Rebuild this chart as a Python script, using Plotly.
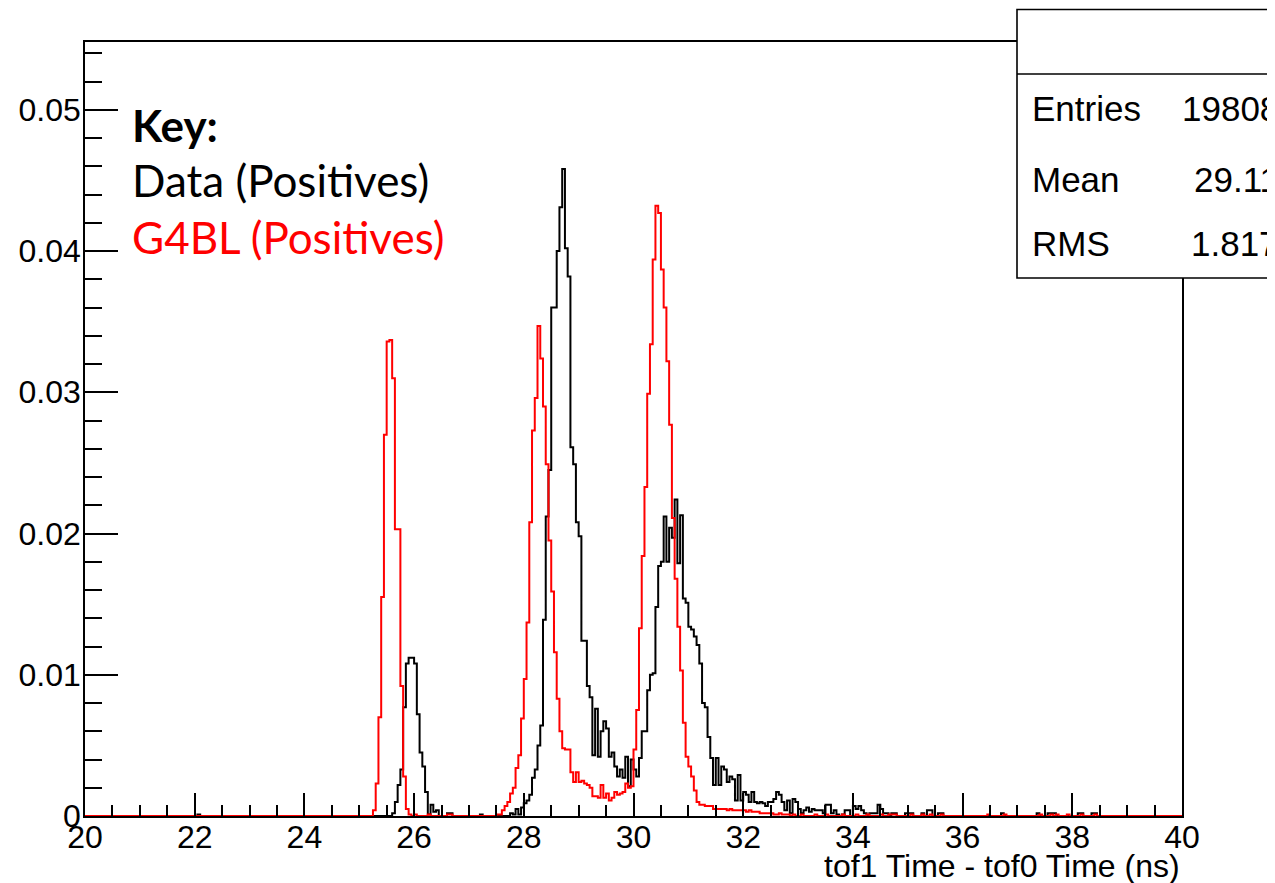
import numpy as np
import plotly.graph_objects as go

# ---------------- binning ----------------
X_MIN, X_MAX, BIN_WIDTH = 20.0, 40.0, 0.05

# ---------------- Data (Positives) : black ----------------
data_peak1_start = 25.60
data_peak1 = [0.0002, 0.0010, 0.0022, 0.0033, 0.0077, 0.0108, 0.0112, 0.0112, 0.0108, 0.0072,
              0.0045, 0.0035, 0.0017, 0.0001, 0.0008, 0.0003, 0.0004, 0.0, 0.0, 0.0,
              0.0002, 0.0002, 0.0]

data_peak2_start = 27.75
data_peak2 = [0.0002, 0.0001, 0.0005, 0.0001, 0.0006, 0.0009, 0.0011, 0.0015, 0.0027, 0.0033,
              0.0050, 0.0064, 0.0139, 0.0212, 0.0245, 0.0360, 0.0360, 0.0400, 0.0431, 0.0458,
              0.0402, 0.0382, 0.0261, 0.0249, 0.0208, 0.0198, 0.0124, 0.0124, 0.0092, 0.0084,
              0.0043, 0.0076, 0.0042, 0.0060, 0.0067, 0.0062]

data_peak3_start = 29.55
data_peak3 = [0.0042, 0.0045, 0.0035, 0.0028, 0.0033, 0.0027, 0.0042, 0.0021, 0.0040, 0.0033,
              0.0028, 0.0041, 0.0060, 0.0060, 0.0089, 0.0100, 0.0101, 0.0148, 0.0177, 0.0180,
              0.0212, 0.0180, 0.0204, 0.0197, 0.0224, 0.0179, 0.0213, 0.0154, 0.0151, 0.0134,
              0.0132, 0.0127, 0.0121, 0.0108, 0.0080, 0.0077, 0.0056, 0.0041, 0.0022, 0.0041,
              0.0022, 0.0035, 0.0033, 0.0024, 0.0028, 0.0026, 0.0011, 0.0029, 0.0011, 0.0017,
              0.0015]

data_tail_start = 32.10
data_tail = [0.0010, 0.0017, 0.0010, 0.0009, 0.0010, 0.0009, 0.0007, 0.0010, 0.0010, 0.0012,
             0.0017, 0.0015, 0.0010, 0.0004, 0.0011, 0.0002, 0.0012, 0.0010, 0.0005, 0.0002,
             0.0004, 0.0006, 0.0003, 0.0005, 0.0004, 0.0004, 0.0004, 0.0002, 0.0008, 0.0008,
             0.0002, 0.0004, 0.0001, 0.0, 0.0001, 0.0004, 0.0004, 0.0, 0.0007, 0.0005,
             0.0007, 0.0004, 0.0002, 0.0, 0.0002, 0.0002, 0.0002, 0.0008, 0.0005, 0.0002,
             0.0002, 0.0, 0.0002, 0.0002, 0.0]

data_sparse_x = [22.05, 27.20, 34.95, 35.00, 35.05, 35.25, 35.35, 35.40, 35.55, 35.60,
                 36.70, 37.35, 37.55, 37.60, 37.65, 38.10, 38.15, 38.35, 38.40]
data_sparse_y = [0.0001, 0.0001, 0.0002, 0.0002, 0.0002, 0.0002, 0.0004, 0.0004, 0.0002, 0.0002,
                 0.0002, 0.0002, 0.0002, 0.0002, 0.0002, 0.0002, 0.0002, 0.0002, 0.0002]

# ---------------- G4BL (Positives) : red ----------------
g4bl_peak1_start = 25.25
g4bl_peak1 = [0.0004, 0.0023, 0.0070, 0.0155, 0.0270, 0.0336, 0.0337, 0.0310, 0.0203, 0.0203,
              0.0092, 0.0028, 0.0005, 0.0001]

g4bl_peak23_start = 27.50
g4bl_peak23 = [0.0001, 0.0001, 0.0004, 0.0007, 0.0010, 0.0016, 0.0020, 0.0034, 0.0043, 0.0069,
               0.0097, 0.0137, 0.0208, 0.0273, 0.0296, 0.0347, 0.0324, 0.0290, 0.0249, 0.0195,
               0.0159, 0.0116, 0.0083, 0.0060, 0.0048, 0.0047, 0.0047, 0.0031, 0.0024, 0.0031,
               0.0024, 0.0025, 0.0023, 0.0022, 0.0020, 0.0014, 0.0014, 0.0013, 0.0022, 0.0013,
               0.0016, 0.0011, 0.0013, 0.0017, 0.0015, 0.0016, 0.0017, 0.0023, 0.0020, 0.0021,
               0.0047, 0.0075, 0.0133, 0.0184, 0.0233, 0.0299, 0.0334, 0.0394, 0.0432, 0.0427,
               0.0387, 0.0360, 0.0322, 0.0277, 0.0211, 0.0168, 0.0134, 0.0103, 0.0066, 0.0042,
               0.0035, 0.0028, 0.0018, 0.0010, 0.0008, 0.0008, 0.0007, 0.0007, 0.0007, 0.0005,
               0.0005, 0.0005, 0.0005, 0.0005, 0.0004, 0.0005, 0.0004, 0.0004, 0.0004, 0.0004,
               0.0004, 0.0003, 0.0004, 0.0003, 0.0003, 0.0003, 0.0002, 0.0002, 0.0002, 0.0002,
               0.0002, 0.0001, 0.0001, 0.0002, 0.0001, 0.0001, 0.0001]

g4bl_sparse_x = [26.00, 26.25, 26.60, 26.65, 32.90, 33.05, 33.30, 33.50, 33.80, 34.05, 34.25,
                 34.50, 34.65, 34.70, 34.75, 35.05, 35.25, 35.40, 35.60, 36.45, 36.75, 37.40,
                 37.60, 37.70, 37.90, 38.15, 38.40]
g4bl_sparse_y = [0.0001] * len(g4bl_sparse_x)

# ---------------- stats box / key text ----------------
stats_labels = ["Entries", "Mean", "RMS"]
stats_values = ["19808", "29.11", "1.817"]

key_title = "Key:"
key_data = "Data (Positives)"
key_g4bl = "G4BL (Positives)"
x_title = "tof1 Time - tof0 Time (ns)"


def build_hist(segments, sparse_x, sparse_y):
    n = int(round((X_MAX - X_MIN) / BIN_WIDTH))
    vals = np.zeros(n)
    for start, arr in segments:
        i0 = int(round((start - X_MIN) / BIN_WIDTH))
        for k, v in enumerate(arr):
            vals[i0 + k] = v
    for x, v in zip(sparse_x, sparse_y):
        vals[int(round((x - X_MIN) / BIN_WIDTH))] = v
    edges = X_MIN + BIN_WIDTH * np.arange(n + 1)
    return edges, np.append(vals, vals[-1])


bx, by = build_hist([(data_peak1_start, data_peak1), (data_peak2_start, data_peak2),
                     (data_peak3_start, data_peak3), (data_tail_start, data_tail)],
                    data_sparse_x, data_sparse_y)
rx, ry = build_hist([(g4bl_peak1_start, g4bl_peak1), (g4bl_peak23_start, g4bl_peak23)],
                    g4bl_sparse_x, g4bl_sparse_y)

fig = go.Figure()
fig.add_trace(go.Scatter(x=bx, y=by, mode="lines", line=dict(color="black", width=2, shape="hv"),
                         name="Data (Positives)", hoverinfo="skip"))
fig.add_trace(go.Scatter(x=rx, y=ry, mode="lines", line=dict(color="#ff0000", width=2, shape="hv"),
                         name="G4BL (Positives)", hoverinfo="skip"))

AX_FONT = dict(family="Liberation Sans, Arial, sans-serif", size=32, color="black")

fig.update_xaxes(range=[X_MIN, X_MAX], showgrid=False, zeroline=False,
                 showline=True, mirror=True, linecolor="black", linewidth=1.6,
                 ticks="inside", ticklen=23, tickwidth=1.5, tickcolor="black",
                 tick0=20, dtick=2, tickfont=AX_FONT, ticklabelstandoff=-8,
                 minor=dict(ticks="inside", dtick=0.5, tick0=20, ticklen=11, tickwidth=1.5,
                            tickcolor="black", showgrid=False))
fig.update_yaxes(range=[0, 0.0548], showgrid=False, zeroline=False,
                 showline=True, mirror=True, linecolor="black", linewidth=1.6,
                 ticks="inside", ticklen=33, tickwidth=1.5, tickcolor="black",
                 tick0=0, dtick=0.01, tickfont=AX_FONT, ticklabelstandoff=-4,
                 minor=dict(ticks="inside", dtick=0.002, tick0=0, ticklen=17, tickwidth=1.5,
                            tickcolor="black", showgrid=False))

# page pixel geometry (the page body adds an 8 px offset)
OFF = 8
W, H = 1275, 883
PL, PR, PT, PB = 85, 1182, 42, 816          # plot-area edges in page pixels
PW, PH = PR - PL, PB - PT


def px2x(px):
    return (px - PL) / PW


def py2y(py):
    return (PB - py) / PH


fig.update_layout(width=W, height=H,
                  margin=dict(l=PL - OFF, r=W - (PR - OFF), t=PT - OFF, b=H - (PB - OFF), pad=0),
                  paper_bgcolor="white", plot_bgcolor="white", showlegend=False)

# stats box
fig.add_shape(type="rect", xref="paper", yref="paper", x0=px2x(1017), x1=px2x(1300),
              y0=py2y(278), y1=py2y(9.5), line=dict(color="black", width=1.6),
              fillcolor="white", layer="above")
fig.add_shape(type="line", xref="paper", yref="paper", x0=px2x(1017), x1=px2x(1300),
              y0=py2y(74), y1=py2y(74), line=dict(color="black", width=1.6), layer="above")

STAT_FONT = dict(family="Liberation Sans, Arial, sans-serif", size=35, color="black")
for lab, val, yc in zip(stats_labels, stats_values, [108, 179, 244]):
    fig.add_annotation(xref="paper", yref="paper", x=px2x(1030), y=py2y(yc), text=lab,
                       showarrow=False, xanchor="left", yanchor="middle", font=STAT_FONT)
    fig.add_annotation(xref="paper", yref="paper", x=px2x(1281), y=py2y(yc), text=val,
                       showarrow=False, xanchor="right", yanchor="middle", font=STAT_FONT)

KEY_FONT = dict(family="Lato, Open Sans, sans-serif", size=44)
fig.add_annotation(xref="paper", yref="paper", x=px2x(130), y=py2y(125), text="<b>" + key_title + "</b>",
                   showarrow=False, xanchor="left", yanchor="middle", font=dict(KEY_FONT, color="black"))
fig.add_annotation(xref="paper", yref="paper", x=px2x(130), y=py2y(180), text=key_data,
                   showarrow=False, xanchor="left", yanchor="middle", font=dict(KEY_FONT, color="black"))
fig.add_annotation(xref="paper", yref="paper", x=px2x(130), y=py2y(237), text=key_g4bl,
                   showarrow=False, xanchor="left", yanchor="middle", font=dict(KEY_FONT, color="#ff0000"))

fig.add_annotation(xref="paper", yref="paper", x=1.0, y=py2y(866), text=x_title,
                   showarrow=False, xanchor="right", yanchor="middle",
                   font=dict(family="Liberation Sans, Arial, sans-serif", size=32, color="black"))

fig.write_html("out.html")
